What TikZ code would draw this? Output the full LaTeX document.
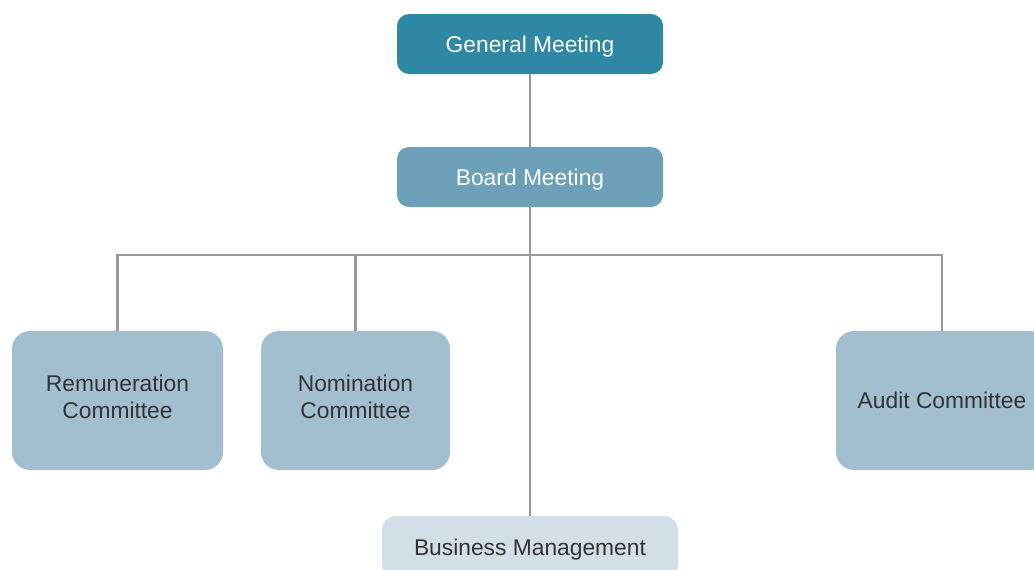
\documentclass[tikz,border=0pt]{standalone}
\usepackage{fontspec}
\setmainfont{Liberation Sans}

\definecolor{gmteal}{HTML}{2E88A4}
\definecolor{bmteal}{HTML}{6BA0B8}
\definecolor{cmblue}{HTML}{A3BECF}
\definecolor{bizblue}{HTML}{D3DFE7}
\definecolor{linkgray}{HTML}{999999}
\definecolor{txtgray}{HTML}{333333}

\tikzset{
  orgbox/.style={rectangle, draw=none, align=center, inner sep=0pt,
    text depth=0pt, font=\fontsize{22.8}{27}\selectfont},
  topbox/.style={orgbox, rounded corners=12pt, minimum width=266pt,
    minimum height=60pt, text=white},
  cmbox/.style={orgbox, rounded corners=18pt, fill=cmblue, minimum height=139pt,
    text depth=8pt, text=txtgray},
  link/.style={draw=linkgray, line width=2.4pt}
}

\begin{document}
\begin{tikzpicture}[x=1pt, y=-1pt]
  \useasboundingbox (0,0) rectangle (1034,570);
  \clip (0,0) rectangle (1034,570);

  % --- top of the chart ---
  \node[topbox, fill=gmteal] (gm) at (530,44) {General Meeting};
  \node[topbox, fill=bmteal] (bm) at (530,177) {Board Meeting};

  % --- committees ---
  \node[cmbox, minimum width=211pt] (rem) at (117.5,400.5) {Remuneration\\Committee};
  \node[cmbox, minimum width=189pt] (nom) at (355.5,400.5) {Nomination\\Committee};
  \node[cmbox, minimum width=212pt, text depth=0pt] (aud) at (942,400.5) {Audit Committee};

  % --- operations ---
  \node[orgbox, rounded corners=14pt, fill=bizblue, text=txtgray,
        minimum width=296pt, minimum height=62pt] (biz) at (530,547) {Business Management};

  % --- connectors ---
  \coordinate (bus) at (530,255);
  \draw[link] (gm) -- (bm);
  \draw[link] (bm) -- (biz);
  \draw[link] (rem.north) |- (bus) -| (aud.north);
  \draw[link] (nom.north) -- (nom.north |- bus);
\end{tikzpicture}
\end{document}
